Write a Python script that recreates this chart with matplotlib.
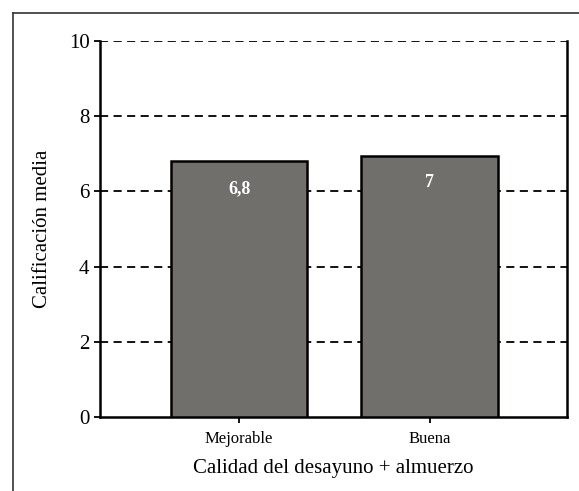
import matplotlib.pyplot as plt
from matplotlib.lines import Line2D

# datos
categorias = ['Mejorable', 'Buena']
medias = [6.8, 6.95]
etiquetas = ['6,8', '7']
yticks = [0, 2, 4, 6, 8, 10]

plt.rcParams['font.family'] = ['Liberation Serif', 'DejaVu Serif']

W, H = 579, 491
fig = plt.figure(figsize=(W / 100, H / 100), dpi=100)
ax = fig.add_axes([100 / W, 1 - 417 / H, 467 / W, 376 / H])

x = range(len(categorias))
bars = ax.bar(x, medias, width=0.717, color='#716f6c', edgecolor='black',
              linewidth=1.8, zorder=3)

for b, lab in zip(bars, etiquetas):
    ax.text(b.get_x() + b.get_width() / 2, b.get_height() - 0.72, lab,
            ha='center', va='center', color='white', fontweight='bold',
            fontsize=13, zorder=4)

for t in yticks[1:]:
    ax.axhline(t, color='black', linestyle=(0, (4.5, 3)), linewidth=1.3, zorder=1)

ax.set_xlim(-0.73, 1.72)
ax.set_ylim(0, 10)
ax.set_yticks(yticks)
ax.set_xticks(list(x))
ax.set_xticklabels(categorias, fontsize=12)
ax.tick_params(axis='y', labelsize=15, length=4, width=1.3, direction='out')
ax.tick_params(axis='x', length=4, width=1.3, direction='out', pad=6)

ax.spines['top'].set_visible(False)
for s in ['left', 'right', 'bottom']:
    ax.spines[s].set_linewidth(1.8)

ax.set_ylabel('Calificación media', fontsize=15, labelpad=12)
ax.set_xlabel('Calidad del desayuno + almuerzo', fontsize=15, labelpad=9)

# marco exterior
fig.add_artist(Line2D([13 / W, 13 / W], [0, 1 - 13 / H], color='#333333',
                      linewidth=1.2, transform=fig.transFigure))
fig.add_artist(Line2D([13 / W, 1], [1 - 13 / H, 1 - 13 / H], color='#333333',
                      linewidth=1.2, transform=fig.transFigure))

fig.savefig('out.png', dpi=100)
